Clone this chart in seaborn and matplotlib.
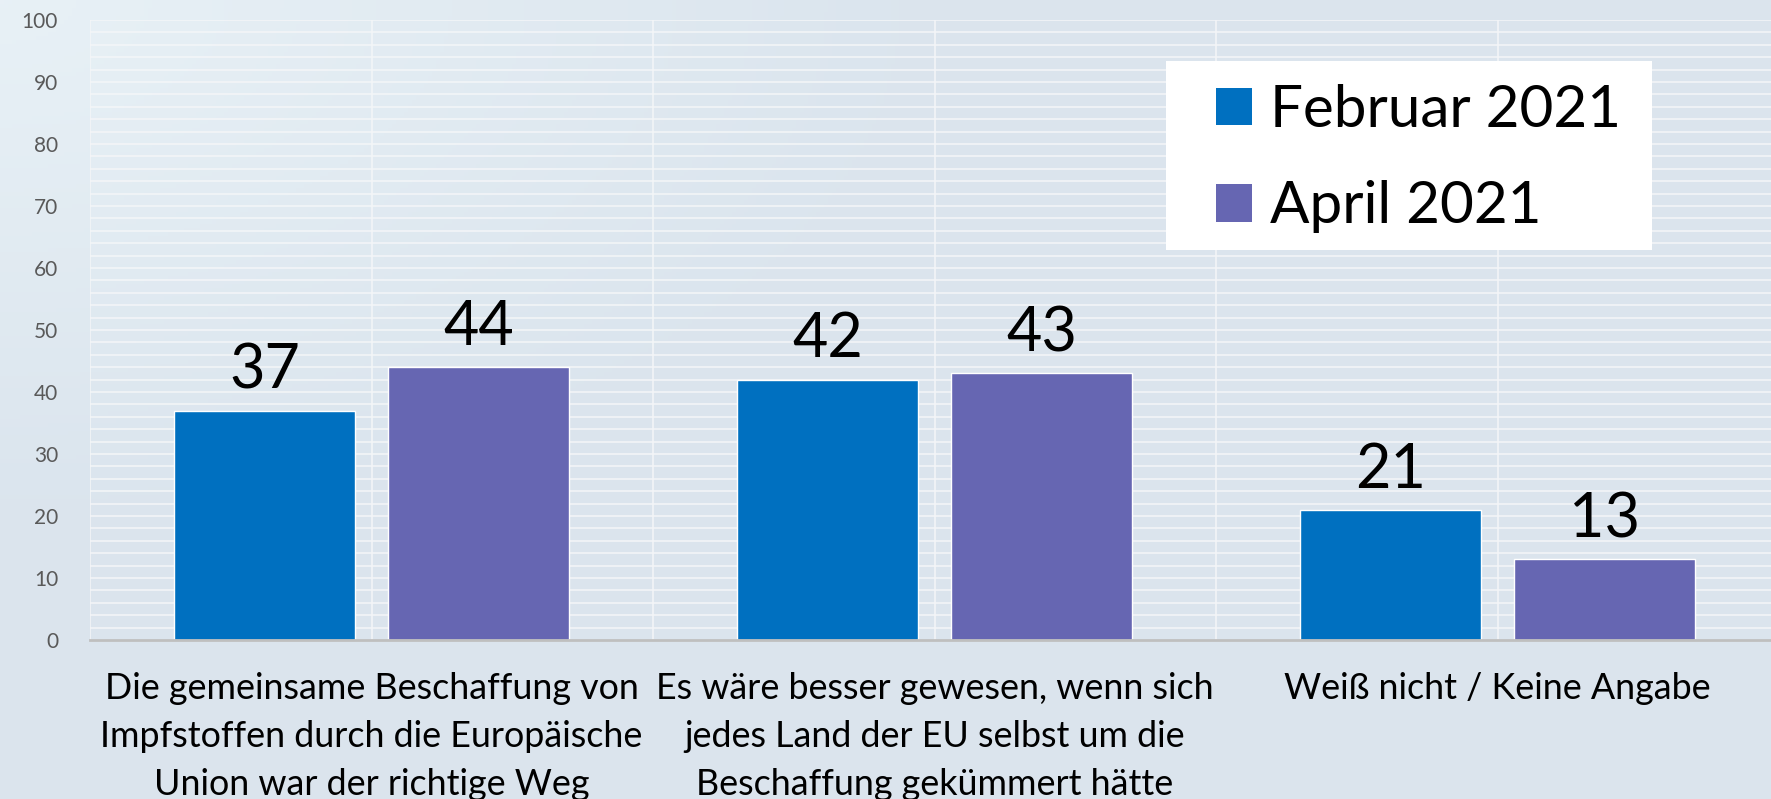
import numpy as np
import pandas as pd
import matplotlib
matplotlib.use("Agg")
import matplotlib.pyplot as plt
from matplotlib.patches import Patch, Rectangle
import seaborn as sns

# --- data ---
fragen = [
    "Die gemeinsame Beschaffung von\nImpfstoffen durch die Europäische\nUnion war der richtige Weg",
    "Es wäre besser gewesen, wenn sich\njedes Land der EU selbst um die\nBeschaffung gekümmert hätte",
    "Weiß nicht / Keine Angabe",
]
monate = ["Februar 2021", "April 2021"]
werte_feb = [37, 42, 21]
werte_apr = [44, 43, 13]
y_ticks = list(range(0, 101, 10))

farben = ["#0070C0", "#6666B2"]

df = pd.DataFrame({
    "frage": fragen * 2,
    "monat": [monate[0]] * 3 + [monate[1]] * 3,
    "wert": werte_feb + werte_apr,
})

sns.set_theme(style="white")
plt.rcParams["font.family"] = ["Lato", "DejaVu Sans"]

W, H = 1771, 799
fig = plt.figure(figsize=(W / 100, H / 100), dpi=100)
fig.patch.set_facecolor("#dbe5ee")

# soft light gradient in the upper left corner
bg = fig.add_axes([0, 0, 1, 1], zorder=-5)
yy, xx = np.mgrid[0:H:4, 0:W:4]
d = np.clip(np.hypot(xx / 900.0, yy / 500.0), 0, 1)
c0 = np.array([0.91, 0.945, 0.965])
c1 = np.array([0.859, 0.898, 0.933])
img = c0[None, None, :] * (1 - d[..., None]) + c1[None, None, :] * d[..., None]
bg.imshow(img, aspect="auto", extent=[0, 1, 0, 1], origin="upper")
bg.axis("off")

left, right = 90 / W, 1779 / W
bottom, top = (H - 640) / H, (H - 20) / H
ax = fig.add_axes([left, bottom, right - left, top - bottom])
ax.patch.set_alpha(0)

sns.barplot(data=df, x="frage", y="wert", hue="monat", palette=farben,
            width=0.76, gap=0.158, saturation=1, legend=False, ax=ax)

ax.set_xlim(-0.5, 2.5)
ax.set_ylim(0, 100)

# grid: horizontal every 2, vertical every half category
for y in range(2, 101, 2):
    ax.axhline(y, color="#f4f6f8", lw=1.1, zorder=0)
for x in np.arange(-0.5, 2.51, 0.5):
    ax.axvline(x, color="#f4f6f8", lw=1.1, zorder=0)

for s in ["top", "right", "left"]:
    ax.spines[s].set_visible(False)
ax.spines["bottom"].set_color("#bfbfbf")
ax.spines["bottom"].set_linewidth(2)
ax.spines["bottom"].set_zorder(5)

ax.set_yticks(y_ticks)
ax.set_yticklabels([str(v) for v in y_ticks], fontsize=15, color="#595959")
ax.tick_params(axis="y", length=0, pad=23)
ax.set_xticks(range(len(fragen)))
ax.set_xticklabels(fragen, fontsize=25.8, color="black", linespacing=1.56,
                   va="top")
ax.tick_params(axis="x", length=0, pad=23)
ax.set_xlabel("")
ax.set_ylabel("")

for cont in ax.containers:
    ax.bar_label(cont, fontsize=44, color="black", padding=8)

# white legend box
ax.add_patch(Rectangle((1166 / W, 1 - 250 / H), (1652 - 1166) / W,
                       (250 - 61) / H, transform=fig.transFigure,
                       facecolor="white", edgecolor="none", zorder=4,
                       clip_on=False))
handles = [Patch(facecolor=f, edgecolor="none") for f in farben]
leg = ax.legend(handles, monate, loc="upper left",
                bbox_to_anchor=(1216 / W, 1 - 84 / H),
                bbox_transform=fig.transFigure, fontsize=42,
                handlelength=0.62, handleheight=0.62, handletextpad=0.3,
                labelspacing=0.74, borderpad=0, borderaxespad=0,
                frameon=False, labelcolor="black")
leg.set_zorder(6)

fig.savefig("out.png", dpi=100)
